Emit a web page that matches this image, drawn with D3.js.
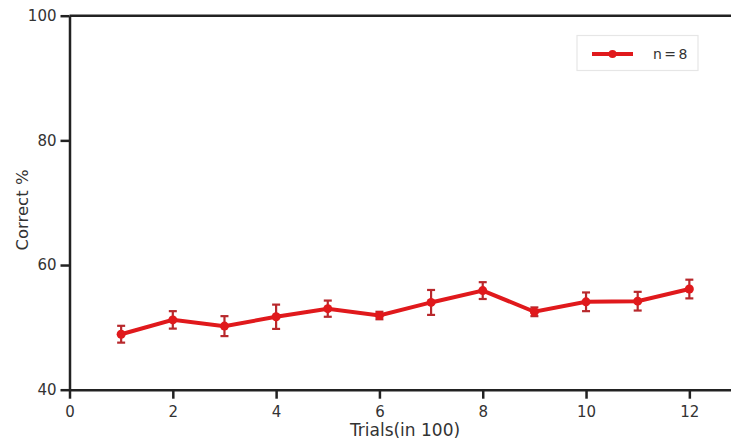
<!DOCTYPE html>
<head>
<meta charset="utf-8">
<script src="https://d3js.org/d3.v7.min.js"></script>
</head>
<style>
body { margin: 0; background: #fff; }
.line { fill: none; stroke: #e0191c; stroke-width: 4px; }
.axis text { font-family: "DejaVu Sans", Verdana, sans-serif; font-size: 15px; fill: #333; }
.axis path, .axis line { stroke: #222; stroke-width: 2.5px; }
</style>
<body>
<script>
// trial blocks (x 100), mean % correct and error
var trials = [1, 2, 3, 4, 5, 6, 7, 8, 9, 10, 11, 12];
var correct = [48.9, 51.2, 50.2, 51.7, 53.0, 51.9, 54.0, 55.9, 52.5, 54.1, 54.2, 56.15];
var errs = [1.35, 1.4, 1.6, 1.95, 1.3, 0.6, 2.0, 1.35, 0.7, 1.5, 1.5, 1.5];
var xTicks = [0, 2, 4, 6, 8, 10, 12];
var yTicks = [40, 60, 80, 100];
var seriesName = "n=8";

var data = trials.map(function(t, i) { return {t: t, v: correct[i], e: errs[i]}; });

var W = 731, H = 441;
var svg = d3.select("body").append("svg").attr("width", W).attr("height", H);

var x = d3.scaleLinear().domain([0, 13]).range([69.5, 741]);
var y = d3.scaleLinear().domain([40, 100]).range([389.7, 15.7]);

// top frame line
svg.append("line")
    .attr("x1", x(0)).attr("x2", W)
    .attr("y1", y(100)).attr("y2", y(100))
    .attr("stroke", "#222").attr("stroke-width", 2.5);

svg.append("g")
    .attr("class", "axis")
    .attr("transform", "translate(0," + y(40) + ")")
    .call(d3.axisBottom(x).tickValues(xTicks).tickSize(9).tickPadding(8).tickSizeOuter(0));

svg.append("g")
    .attr("class", "axis")
    .attr("transform", "translate(" + x(0) + ",0)")
    .call(d3.axisLeft(y).tickValues(yTicks).tickSize(9).tickPadding(4).tickSizeOuter(0));

// axis titles
svg.append("text")
    .attr("x", 405).attr("y", 436)
    .attr("text-anchor", "middle")
    .style("font-family", "DejaVu Sans, Verdana, sans-serif")
    .style("font-size", "17px").style("fill", "#333")
    .text("Trials(in 100)");

svg.append("text")
    .attr("transform", "translate(28,210) rotate(-90)")
    .attr("text-anchor", "middle")
    .style("font-family", "DejaVu Sans, Verdana, sans-serif")
    .style("font-size", "16.5px").style("fill", "#333")
    .text("Correct %");

var line = d3.line()
    .x(function(d) { return x(d.t); })
    .y(function(d) { return y(d.v); });

svg.append("path").datum(data).attr("class", "line").attr("d", line);

// error bars
var eb = svg.append("g").attr("stroke", "#b8282c").attr("stroke-width", 2.2);
data.forEach(function(d) {
  var cx = x(d.t);
  eb.append("line").attr("x1", cx).attr("x2", cx).attr("y1", y(d.v + d.e)).attr("y2", y(d.v - d.e));
  eb.append("line").attr("x1", cx - 4).attr("x2", cx + 4).attr("y1", y(d.v + d.e)).attr("y2", y(d.v + d.e));
  eb.append("line").attr("x1", cx - 4).attr("x2", cx + 4).attr("y1", y(d.v - d.e)).attr("y2", y(d.v - d.e));
});

svg.selectAll(".dot").data(data).enter().append("circle")
    .attr("cx", function(d) { return x(d.t); })
    .attr("cy", function(d) { return y(d.v); })
    .attr("r", 4.5)
    .attr("fill", "#e0191c");

// legend
var lg = svg.append("g");
lg.append("rect").attr("x", 577).attr("y", 35.5).attr("width", 121).attr("height", 35)
    .attr("fill", "#fff").attr("stroke", "#e6e6e6").attr("stroke-width", 1.2);
lg.append("line").attr("x1", 592).attr("x2", 633).attr("y1", 54).attr("y2", 54)
    .attr("stroke", "#e0191c").attr("stroke-width", 4);
lg.append("circle").attr("cx", 612.5).attr("cy", 54).attr("r", 4).attr("fill", "#e0191c");
lg.append("text").attr("x", 653).attr("y", 59)
    .style("font-family", "DejaVu Sans, Verdana, sans-serif")
    .style("font-size", "14px").style("letter-spacing", "2.5px").style("fill", "#333")
    .text(seriesName);
</script>
</body>
